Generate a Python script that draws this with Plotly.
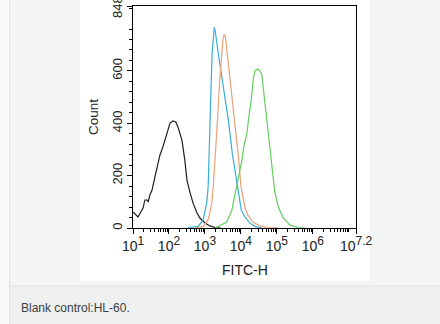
import plotly.graph_objects as go

# ---- data (x in log10 decades of FITC-H, y = count) ----
black_log = [1.00, 1.14, 1.28, 1.33, 1.39, 1.42, 1.47, 1.53, 1.61, 1.69, 1.75, 1.83, 1.94, 2.03,
             2.11, 2.19, 2.25, 2.31, 2.36, 2.44, 2.50, 2.58, 2.67, 2.78, 2.86, 3.00, 3.14, 3.28, 3.45]
black_cnt = [61, 42, 76, 107, 107, 99, 126, 145, 195, 241, 279, 309, 363, 401,
             409, 405, 386, 363, 336, 260, 183, 138, 95, 57, 38, 19, 8, 2, 0]

cyan_log = [2.53, 2.81, 2.95, 3.05, 3.09, 3.11, 3.14, 3.17, 3.20, 3.24, 3.26, 3.29, 3.32, 3.37,
            3.51, 3.65, 3.76, 3.90, 4.01, 4.11, 4.25, 4.39, 4.58]
cyan_cnt = [2, 6, 31, 95, 157, 286, 413, 540, 667, 737, 767, 748, 710, 667,
            540, 413, 286, 155, 69, 42, 19, 6, 0]

orange_log = [2.72, 2.95, 3.09, 3.19, 3.23, 3.30, 3.35, 3.40, 3.46, 3.50, 3.54, 3.57, 3.62,
              3.72, 3.82, 3.89, 3.94, 4.00, 4.06, 4.11, 4.19, 4.33, 4.53, 4.75, 5.03]
orange_cnt = [0, 5, 31, 95, 157, 286, 413, 540, 667, 720, 740, 730, 667,
              540, 431, 336, 260, 160, 107, 80, 50, 23, 8, 2, 0]

green_log = [3.28, 3.42, 3.61, 3.75, 3.83, 3.90, 3.97, 4.03, 4.08, 4.17, 4.22, 4.28, 4.35,
             4.39, 4.46, 4.53, 4.58, 4.67, 4.76, 4.85, 4.94, 5.04, 5.18, 5.36, 5.58, 5.78]
green_cnt = [0, 11, 23, 69, 120, 170, 215, 260, 310, 363, 424, 480, 575,
             600, 607, 600, 588, 480, 365, 250, 140, 80, 38, 12, 2, 0]

x_tick_exp = ["1", "2", "3", "4", "5", "6", "7.2"]
x_tick_pos = [1, 2, 3, 4, 5, 6, 7.2]
y_tick_vals = [0, 200, 400, 600]
y_top_label = "848"
caption = "Blank control:HL-60."

FONT = "Liberation Sans, Arial, sans-serif"

fig = go.Figure()
for lx, cnt, col in [(black_log, black_cnt, "#1e1e1e"),
                     (cyan_log, cyan_cnt, "#3aaed8"),
                     (orange_log, orange_cnt, "#e9a277"),
                     (green_log, green_cnt, "#62cf5e")]:
    fig.add_trace(go.Scatter(x=[10 ** v for v in lx], y=cnt, mode="lines",
                             line=dict(color=col, width=1.2), showlegend=False,
                             hoverinfo="skip"))

# geometry helpers (page pixels -> paper coords)
L, R, T, B = 133, 356, 6, 228
W, H = R - L, B - T
def px(x):
    return (x - L) / W
def py(y):
    return (B - y) / H

minor_x = [m * 10 ** k for k in range(1, 7) for m in range(2, 10)] + [1e7]
minor_y = [v for v in range(40, 848, 40) if v % 200 != 0]

fig.update_layout(
    width=440, height=324,
    margin=dict(l=L, r=440 - R, t=T, b=324 - B, pad=0),
    paper_bgcolor="#f4f5f5",
    plot_bgcolor="white",
    font=dict(family=FONT, color="#222"),
    xaxis=dict(type="log", range=[1, 7.2], showgrid=False, zeroline=False,
               showline=True, linecolor="black", linewidth=1.2, mirror=True,
               ticks="outside", ticklen=5, tickwidth=1, tickcolor="black",
               tickvals=[10 ** v for v in x_tick_pos],
               ticktext=["10<sup><span style='font-size:12px'>%s</span></sup>" % e
                         for e in x_tick_exp],
               tickfont=dict(size=14, color="#222"),
               minor=dict(tickvals=minor_x, ticks="outside", ticklen=2.5,
                          tickwidth=1, tickcolor="black", showgrid=False)),
    yaxis=dict(range=[0, 848], showgrid=False, zeroline=False,
               showline=True, linecolor="black", linewidth=1.2, mirror=True,
               ticks="outside", ticklen=5, tickwidth=1, tickcolor="black",
               tickvals=y_tick_vals + [848], ticktext=[str(v) for v in y_tick_vals] + [""],
               tickangle=-90, tickfont=dict(size=13, color="#222"),
               minor=dict(tickvals=minor_y, ticks="outside", ticklen=3,
                          tickwidth=1, tickcolor="black", showgrid=False)),
    shapes=[
        # left light strip and border
        dict(type="rect", xref="paper", yref="paper", layer="below",
             x0=px(0), x1=px(9), y0=py(330), y1=py(-5),
             fillcolor="#f8f9f9", line=dict(width=0)),
        dict(type="line", xref="paper", yref="paper", layer="below",
             x0=px(9.5), x1=px(9.5), y0=py(330), y1=py(-5),
             line=dict(color="#e2e4e4", width=1)),
        # white image area
        dict(type="rect", xref="paper", yref="paper", layer="below",
             x0=px(80), x1=px(370), y0=py(281), y1=py(-5),
             fillcolor="white", line=dict(width=0)),
        # caption band
        dict(type="rect", xref="paper", yref="paper", layer="below",
             x0=px(10), x1=px(445), y0=py(330), y1=py(286),
             fillcolor="#eeefef", line=dict(width=0)),
        dict(type="line", xref="paper", yref="paper", layer="below",
             x0=px(10), x1=px(445), y0=py(286), y1=py(286),
             line=dict(color="#e2e4e4", width=1)),
    ],
    annotations=[
        dict(text=y_top_label, xref="paper", yref="paper", x=px(118), y=py(7),
             xanchor="center", yanchor="middle", showarrow=False, textangle=-90,
             font=dict(size=13, color="#222", family=FONT)),
        dict(text="FITC-H", xref="paper", yref="paper", x=px(245), y=py(270),
             xanchor="center", yanchor="middle", showarrow=False,
             font=dict(size=14, color="#222", family=FONT)),
        dict(text="Count", xref="paper", yref="paper", x=px(93), y=py(117),
             xanchor="center", yanchor="middle", showarrow=False, textangle=-90,
             font=dict(size=13.5, color="#222", family=FONT)),
        dict(text=caption, xref="paper", yref="paper", x=px(19), y=py(308),
             xanchor="left", yanchor="middle", showarrow=False,
             font=dict(size=12, color="#3a3f44", family=FONT)),
    ],
)

fig.write_html("out.html", config={"displayModeBar": False})
